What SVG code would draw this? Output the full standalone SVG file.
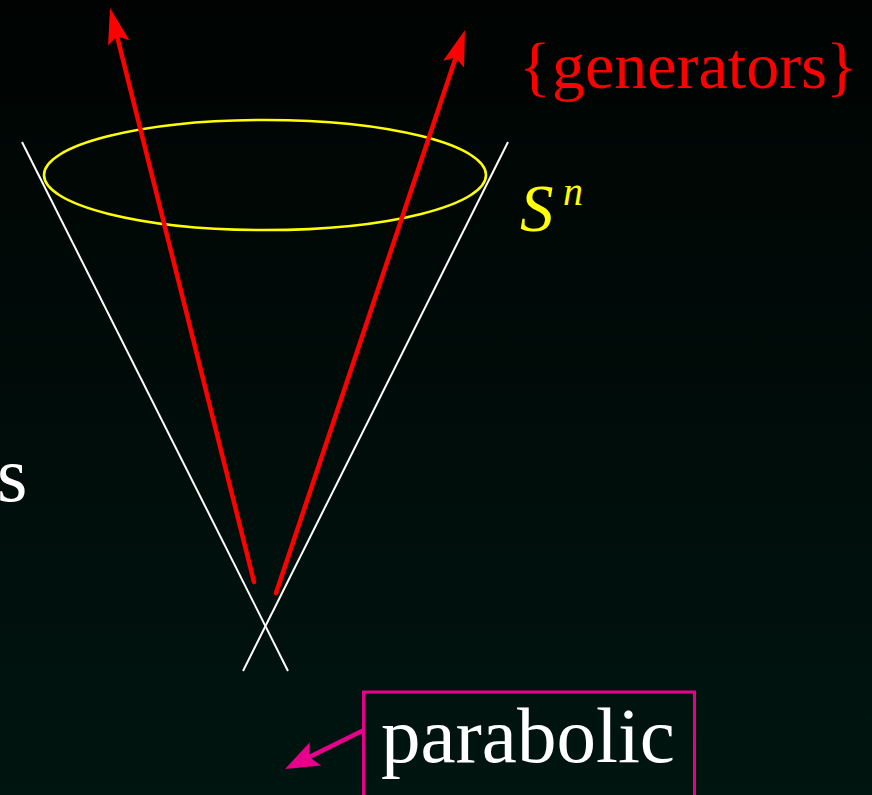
<svg xmlns="http://www.w3.org/2000/svg" width="872" height="795" viewBox="0 0 872 795">
<defs>
<linearGradient id="bg" x1="0" y1="0" x2="0" y2="1">
<stop offset="0" stop-color="#000302"/>
<stop offset="1" stop-color="#001510"/>
</linearGradient>
<marker id="ahRed" markerUnits="userSpaceOnUse" markerWidth="40" markerHeight="26" viewBox="0 -13 40 26" refX="26" refY="0" orient="auto">
<path d="M0,-11 L36,0 L0,11 L7,0 z" fill="#ff0000"/>
</marker>
<marker id="ahMag" markerUnits="userSpaceOnUse" markerWidth="40" markerHeight="30" viewBox="0 -15 40 30" refX="24" refY="0" orient="auto">
<path d="M0,-13 L34,0 L0,13 L7,0 z" fill="#e8008c"/>
</marker>
<style>
.txt{font-family:"Liberation Serif","Times New Roman",serif}
.cone{stroke:#ffffff;stroke-width:2;fill:none}
.gen{stroke:#ff0000;stroke-width:4.5;fill:none;stroke-linecap:round;marker-end:url(#ahRed)}
</style>
</defs>
<rect width="872" height="795" fill="url(#bg)"/>
<g id="cone">
<line class="cone" x1="22" y1="142" x2="288" y2="671"/>
<line class="cone" x1="508" y1="142" x2="243" y2="671"/>
</g>
<g id="sphere">
<ellipse cx="265" cy="175" rx="221" ry="55" fill="none" stroke="#ffff00" stroke-width="2.6"/>
</g>
<g id="connectors">
<path class="gen" d="M254,582 L112.4,17.7"/>
<path class="gen" d="M276,593 L461.8,39.5"/>
<path d="M362,731 L294,764.6" stroke="#e8008c" stroke-width="4.5" stroke-linecap="round" fill="none" marker-end="url(#ahMag)"/>
</g>
<g id="generators-label">
<text class="txt" x="519" y="88" font-size="66" fill="#ff0000">{</text>
<text class="txt" x="552" y="88" font-size="66" fill="#ff0000">generators</text>
<text class="txt" x="826" y="88" font-size="66" fill="#ff0000">}</text>
</g>
<g id="sn-label">
<text class="txt" x="520" y="231" font-size="67" font-style="italic" fill="#ffff00">S</text>
<text class="txt" x="563" y="205" font-size="40" font-style="italic" fill="#ffff00">n</text>
</g>
<g id="s-label">
<text class="txt" x="-3" y="501" font-size="78" fill="#ffffff">s</text>
</g>
<g id="parabolic">
<rect x="363.5" y="692" width="331" height="120" fill="none" stroke="#e8008c" stroke-width="3"/>
<text class="txt" x="381" y="762" font-size="79" fill="#ffffff">parabolic</text>
</g>
</svg>
